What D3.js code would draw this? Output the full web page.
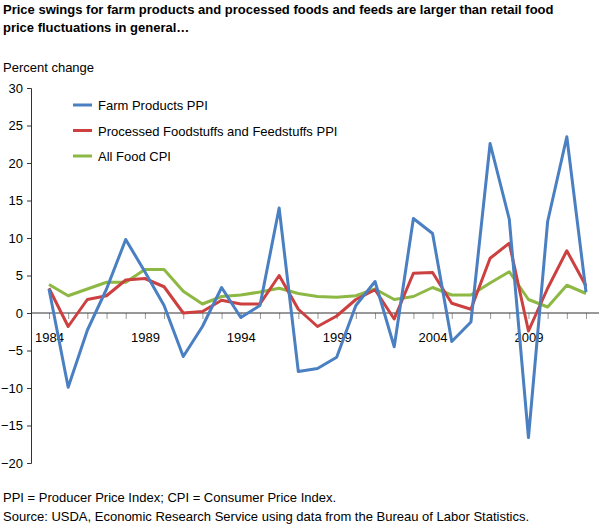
<!DOCTYPE html><html><head><meta charset="utf-8"><script src="https://cdn.jsdelivr.net/npm/d3@7"></script>
<style>body{margin:0;background:#fff}text{font-family:"Liberation Sans",Arial,sans-serif}</style></head><body><svg id="c" width="599" height="530"></svg><script>
const years=d3.range(1984,2013);
const farm=[3.2,-9.9,-2.3,3.2,9.8,5.5,1.0,-5.8,-1.8,3.4,-0.6,1.0,14.0,-7.8,-7.4,-5.9,1.0,4.2,-4.5,12.6,10.6,-3.8,-1.2,22.6,12.5,-16.6,12.2,23.5,2.8];
const processed=[3.3,-1.8,1.8,2.3,4.4,4.6,3.5,0.0,0.2,1.7,1.2,1.2,5.0,0.5,-1.8,-0.4,1.8,3.1,-0.8,5.3,5.4,1.3,0.5,7.3,9.3,-2.4,3.3,8.3,3.6];
const cpi=[3.8,2.3,3.2,4.1,4.1,5.8,5.8,2.9,1.2,2.2,2.4,2.8,3.3,2.6,2.2,2.1,2.3,3.2,1.8,2.2,3.4,2.4,2.4,4.0,5.5,1.8,0.8,3.7,2.6];
const yTicks=d3.range(-20,31,5);
const xLabels=[1984,1989,1994,1999,2004,2009];
const series=[{name:"Farm Products PPI",v:farm,c:"#4a7fc1"},{name:"Processed Foodstuffs and Feedstuffs PPI",v:processed,c:"#cc4040"},{name:"All Food CPI",v:cpi,c:"#8db843"}];
const svg=d3.select("#c");
const x=d3.scaleLinear().domain([1984,2012]).range([49,586]);
const y=d3.scaleLinear().domain([-20,30]).range([463,88]);
svg.append("text").attr("x",3).attr("y",14).attr("font-weight","bold").attr("font-size",13).text("Price swings for farm products and processed foods and feeds are larger than retail food");
svg.append("text").attr("x",3).attr("y",32).attr("font-weight","bold").attr("font-size",13).text("price fluctuations in general…");
svg.append("text").attr("x",3).attr("y",72).attr("font-size",13).text("Percent change");
// y axis
const ya=svg.append("g").attr("transform","translate(31,0)").call(d3.axisLeft(y).tickValues(yTicks).tickSize(4).tickPadding(4));
ya.select(".domain").attr("stroke","#333");ya.selectAll("line").attr("stroke","#333");
ya.selectAll("text").attr("font-size",13).attr("fill","#000").style("font-family","Liberation Sans, Arial");
// x axis at zero
const xa=svg.append("g").attr("transform",`translate(0,${y(0)})`).call(d3.axisBottom(x).tickValues(years).tickSize(6).tickFormat(d=>xLabels.includes(d)?d:""));
xa.select(".domain").remove();xa.selectAll("line").attr("stroke","#999");
xa.selectAll("text").attr("font-size",13).attr("fill","#000").attr("dy","1.5em").style("font-family","Liberation Sans, Arial");
svg.append("line").attr("x1",31).attr("x2",599).attr("y1",y(0)).attr("y2",y(0)).attr("stroke","#333");
const line=d3.line().x((d,i)=>x(years[i])).y(d=>y(d));
[2,1,0].forEach(k=>{const s=series[k];svg.append("path").attr("d",line(s.v)).attr("fill","none").attr("stroke",s.c).attr("stroke-width",3).attr("stroke-linejoin","round");});
series.forEach((s,i)=>{const yy=105+i*25.5;svg.append("line").attr("x1",73).attr("x2",92).attr("y1",yy).attr("y2",yy).attr("stroke",s.c).attr("stroke-width",3);
svg.append("text").attr("x",98).attr("y",yy+5).attr("font-size",13).text(s.name);});
svg.append("text").attr("x",3).attr("y",502).attr("font-size",13).text("PPI = Producer Price Index; CPI = Consumer Price Index.");
svg.append("text").attr("x",3).attr("y",521).attr("font-size",13).text("Source: USDA, Economic Research Service using data from the Bureau of Labor Statistics.");
</script></body></html>
